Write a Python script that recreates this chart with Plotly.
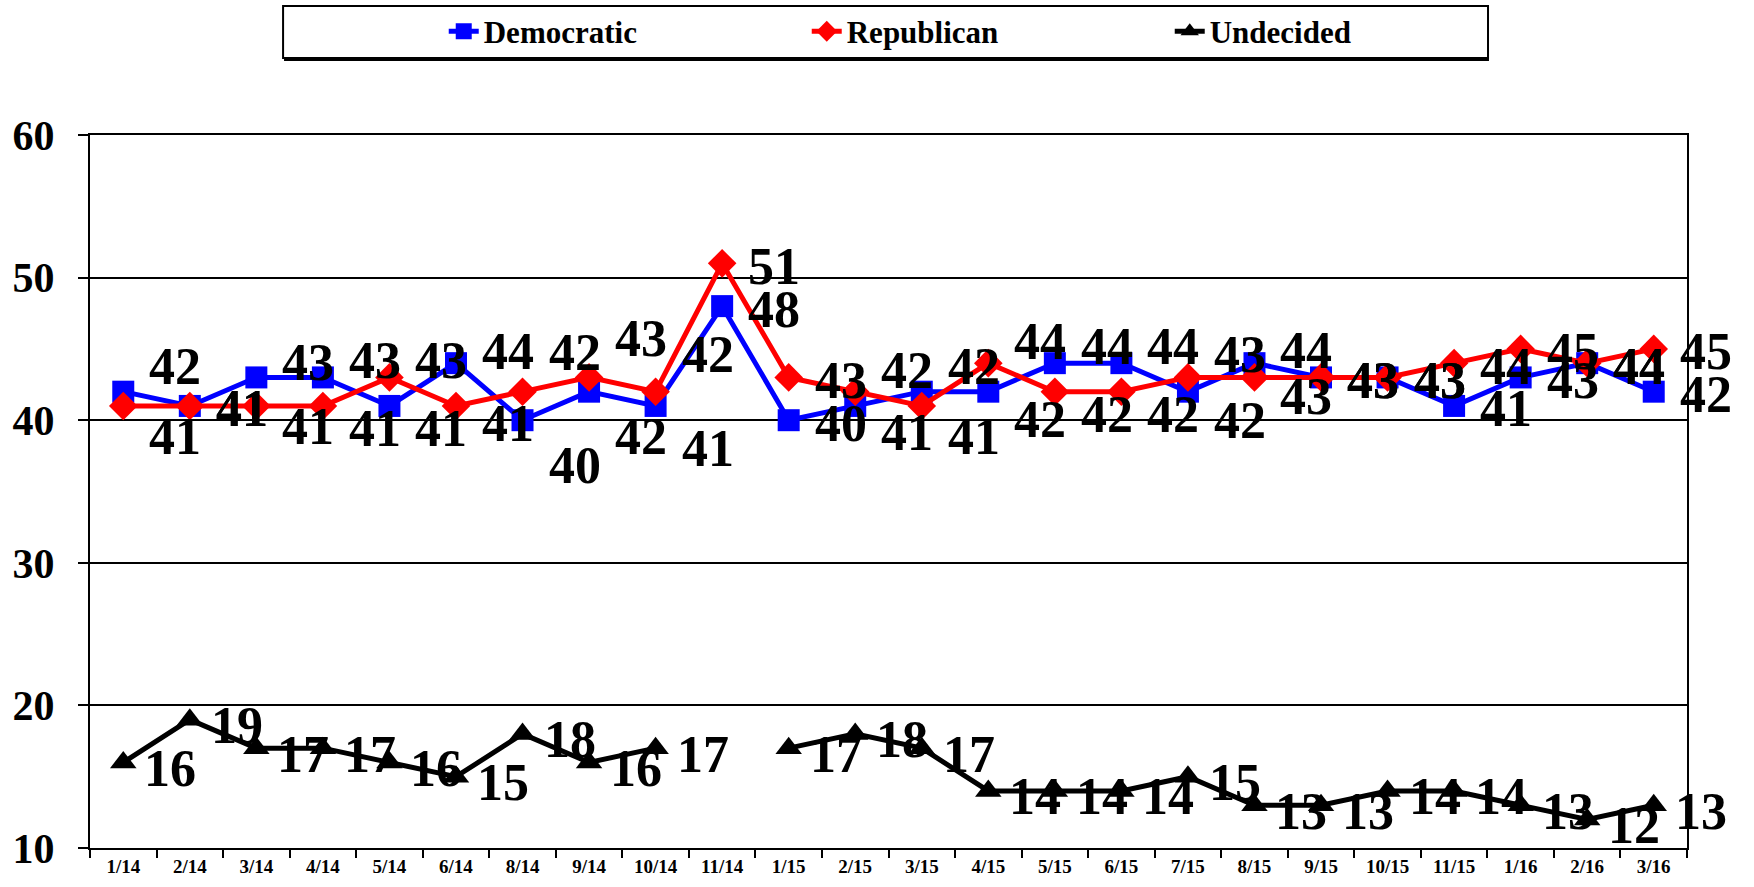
import plotly.graph_objects as go

categories = ["1/14", "2/14", "3/14", "4/14", "5/14", "6/14", "8/14", "9/14", "10/14", "11/14",
              "1/15", "2/15", "3/15", "4/15", "5/15", "6/15", "7/15", "8/15", "9/15", "10/15",
              "11/15", "1/16", "2/16", "3/16"]
democratic = [42, 41, 43, 43, 41, 44, 40, 42, 41, 48, 40, 41, 42, 42, 44, 44, 42, 44, 43, 43, 41, 43, 44, 42]
republican = [41, 41, 41, 41, 43, 41, 42, 43, 42, 51, 43, 42, 41, 44, 42, 42, 43, 43, 43, 43, 44, 45, 44, 45]
undecided = [16, 19, 17, 17, 16, 15, 18, 16, 17, None, 17, 18, 17, 14, 14, 14, 15, 13, 13, 14, 14, 13, 12, 13]

# label styling: vertical separation (px) of the Dem/Rep labels at each month
label_spread = [28, 30, 18, 20, 20, 15, 42, 42, 40, 0, 0, 24, 28, 25, 20, 20, 26, 16, 0, 0, 0, 0, 0, 0]

SERIF = "Liberation Serif, Times New Roman, serif"
LABEL_FONT = dict(family=SERIF, size=52, color="black", weight="bold")

fig = go.Figure()
series = [
    ("Democratic", democratic, "#0000FF", "square", 22),
    ("Republican", republican, "#FF0000", "diamond", 22),
    ("Undecided", undecided, "#000000", "triangle-up", 23),
]
for name, vals, color, sym, size in series:
    fig.add_trace(go.Scatter(
        x=categories, y=vals, name=name, mode="lines+markers",
        line=dict(color=color, width=5),
        marker=dict(symbol=sym, size=size, color=color),
        connectgaps=False, cliponaxis=False,
    ))

annotations = []
for i, c in enumerate(categories):
    d, r = democratic[i], republican[i]
    s = label_spread[i]
    d_dy = s if d > r else (-s if d < r else 0)
    r_dy = -d_dy
    for v, dy in ((d, d_dy), (r, r_dy)):
        annotations.append(dict(
            x=c, y=v, text=str(v), showarrow=False, xshift=52, yshift=dy - 3,
            xanchor="center", yanchor="middle", font=LABEL_FONT,
        ))
    u = undecided[i]
    if u is not None:
        annotations.append(dict(
            x=c, y=u, text=str(u), showarrow=False, xshift=47, yshift=-6,
            xanchor="center", yanchor="middle", font=LABEL_FONT,
        ))

fig.update_layout(
    width=1754, height=887,
    paper_bgcolor="white", plot_bgcolor="white",
    margin=dict(l=90, r=67, t=135, b=39, autoexpand=False),
    showlegend=True,
    legend=dict(
        orientation="h", x=0.2215, xanchor="left", y=1.145, yanchor="middle",
        font=dict(family=SERIF, size=31, color="black", weight="bold"),
        entrywidth=318, entrywidthmode="pixels",
        bgcolor="rgba(0,0,0,0)", borderwidth=0, itemclick=False,
    ),
    annotations=annotations,
    shapes=[
        dict(type="rect", xref="paper", yref="paper",
             x0=0.1209, x1=0.8754, y0=1.108, y1=1.1809,
             line=dict(color="black", width=2), fillcolor="rgba(0,0,0,0)", layer="below"),
        dict(type="line", xref="paper", yref="paper",
             x0=0.1215, x1=0.8760, y0=1.1052, y1=1.1052,
             line=dict(color="black", width=2)),
    ],
)

fig.update_xaxes(
    type="category", categoryorder="array", categoryarray=categories,
    range=[-0.5, len(categories) - 0.5],
    showline=True, linecolor="black", linewidth=2, mirror=True,
    ticks="outside", tickson="boundaries", ticklen=8, tickwidth=2, tickcolor="black",
    tickfont=dict(family=SERIF, size=19, color="black", weight="bold"),
    showgrid=False, zeroline=False,
)
fig.update_yaxes(
    range=[10, 60], dtick=10, tick0=10,
    showline=True, linecolor="black", linewidth=2, mirror=True,
    ticks="outside", ticklen=10, tickwidth=2, tickcolor="black",
    ticklabelstandoff=15,
    tickfont=dict(family=SERIF, size=42, color="black", weight="bold"),
    showgrid=True, gridcolor="black", gridwidth=1.5, zeroline=False,
)

fig.write_html("out.html", config={"displayModeBar": False},
               post_script="document.body.style.margin='0px';")
